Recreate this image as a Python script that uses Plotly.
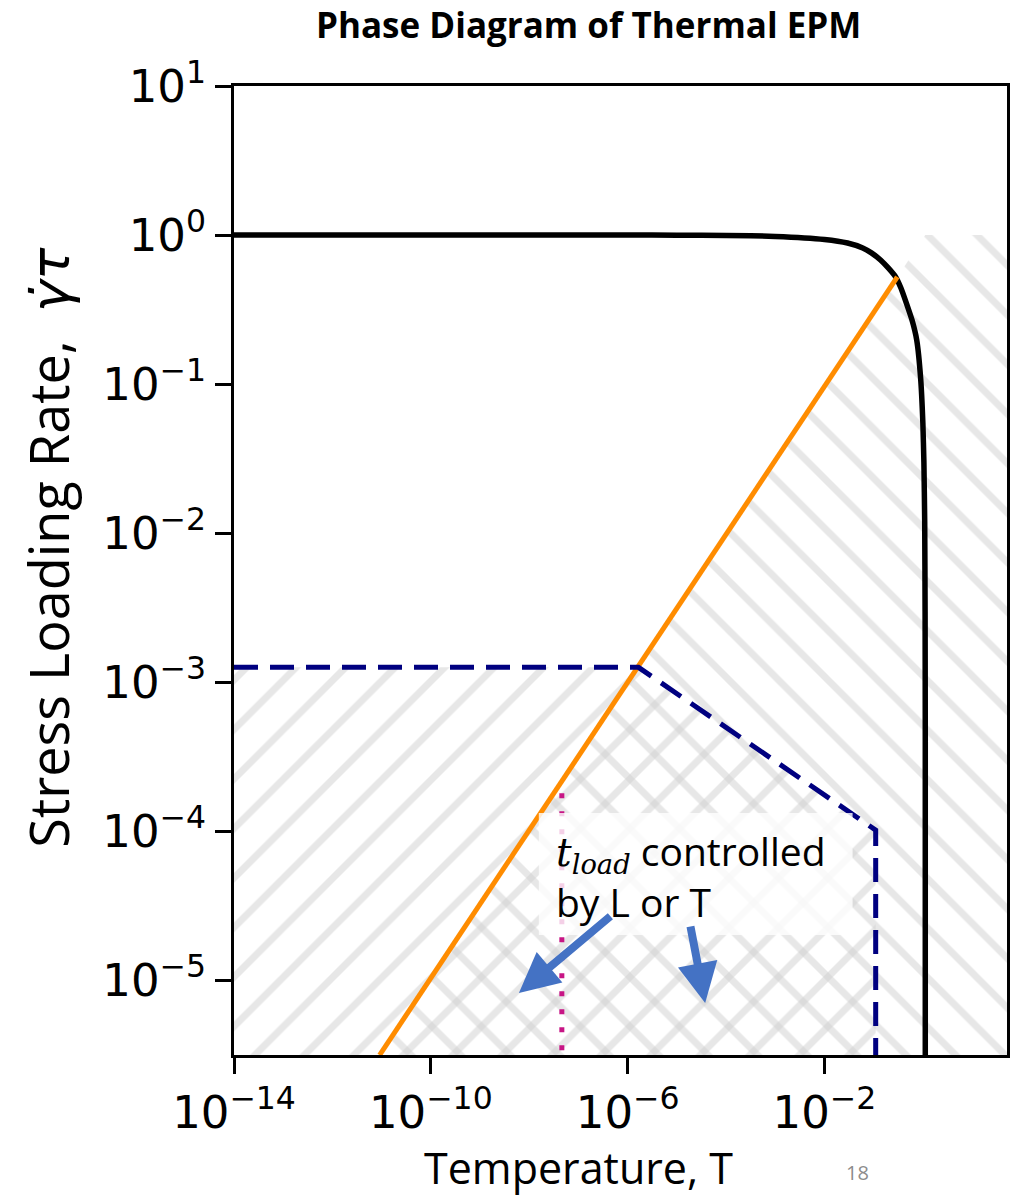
import plotly.graph_objects as go

# ---- data ----
T_black = [1e-14, 1e-9, 1e-6, 1e-5, 1e-4, 1e-3, 1e-2, 0.0295, 0.06, 0.09, 0.138, 0.2, 0.28, 0.36, 0.46, 0.6, 0.75, 0.9, 1.0, 1.05, 1.09, 1.11, 1.12, 1.12]
y_black = [1.0, 1.0, 1.0, 0.999, 0.995, 0.98, 0.935, 0.885, 0.82, 0.76, 0.681, 0.6, 0.524, 0.44, 0.351, 0.27, 0.198, 0.11, 0.055, 0.03, 0.012, 0.003, 0.0004, 3.16e-6]

T_orange = [9.1e-12, 0.303]
y_orange = [3.16e-6, 0.524]

T_navy = [1e-14, 1.66e-6, 0.11, 0.11]
y_navy = [1.26e-3, 1.26e-3, 1.02e-4, 3.16e-6]

T_pink = [4.6e-8, 4.6e-8]
y_pink = [1.8e-4, 3.16e-6]

# hatched regions
T_hatchA = [9.1e-12, 1.12, 60, 60, 9.1e-12]
y_hatchA = [3.16e-6, 1.0, 1.0, 3.16e-6, 3.16e-6]
T_hatchB = [1e-14, 1.66e-6, 0.11, 0.11, 1e-14]
y_hatchB = [1.26e-3, 1.26e-3, 1.02e-4, 3.16e-6, 3.16e-6]

x_tickvals = [1e-14, 1e-10, 1e-6, 1e-2]
x_ticktext = ["10<sup>\u221214</sup>", "10<sup>\u221210</sup>", "10<sup>\u22126</sup>", "10<sup>\u22122</sup>"]
y_tickvals = [1e-5, 1e-4, 1e-3, 1e-2, 1e-1, 1e0, 1e1]
y_ticktext = ["10<sup>\u22125</sup>", "10<sup>\u22124</sup>", "10<sup>\u22123</sup>", "10<sup>\u22122</sup>",
              "10<sup>\u22121</sup>", "10<sup>0</sup>", "10<sup>1</sup>"]

HATCH = "#cfcfcf"
LBL_FONT = "Open Sans"

fig = go.Figure()
fig.add_trace(go.Scatter(x=T_hatchA, y=y_hatchA, mode="lines", fill="toself",
                         line=dict(width=0, color="rgba(0,0,0,0)"), fillcolor="rgba(0,0,0,0)",
                         fillpattern=dict(shape="\\", size=35, solidity=0.2, fgcolor=HATCH,
                                          bgcolor="rgba(0,0,0,0)", fillmode="overlay"),
                         hoverinfo="skip", showlegend=False))
fig.add_trace(go.Scatter(x=T_hatchB, y=y_hatchB, mode="lines", fill="toself",
                         line=dict(width=0, color="rgba(0,0,0,0)"), fillcolor="rgba(0,0,0,0)",
                         fillpattern=dict(shape="/", size=35, solidity=0.2, fgcolor=HATCH,
                                          bgcolor="rgba(0,0,0,0)", fillmode="overlay"),
                         hoverinfo="skip", showlegend=False))
fig.add_trace(go.Scatter(x=T_black, y=y_black, mode="lines",
                         line=dict(color="black", width=5.5, shape="spline", smoothing=0.4), showlegend=False))
fig.add_trace(go.Scatter(x=T_orange, y=y_orange, mode="lines",
                         line=dict(color="#ff8c00", width=5), showlegend=False))
fig.add_trace(go.Scatter(x=T_navy, y=y_navy, mode="lines",
                         line=dict(color="#000080", width=5, dash="24px,12px"), showlegend=False))
fig.add_trace(go.Scatter(x=T_pink, y=y_pink, mode="lines",
                         line=dict(color="#c71585", width=5, dash="5px,13px"), showlegend=False))

L, R, T, B = 234, 1, 86, 141
W, H = 1011, 1196
pw, ph = W - L - R, H - T - B

def px(x):
    return (x - L) / pw

def py(y):
    return 1 - (y - T) / ph

fig.add_shape(type="rect", xref="paper", yref="paper", x0=px(540), x1=px(855), y0=py(935), y1=py(813),
              fillcolor="rgba(255,255,255,0.8)", line=dict(width=0), layer="above")

ann = []
ann.append(dict(xref="paper", yref="paper", x=px(555), y=py(876), xanchor="left", yanchor="middle",
                text="<span style='font-family:DejaVu Serif'><i>t</i><sub><i>load</i></sub></span> controlled<br>by L or T",
                showarrow=False, align="left", font=dict(family=LBL_FONT, size=39, color="black")))
# arrows
ann.append(dict(xref="paper", yref="paper", x=px(520), y=py(993), ax=613 - 520, ay=915 - 993,
                text="", showarrow=True, arrowhead=2, arrowsize=1.0, arrowwidth=8, arrowcolor="#4472c4"))
ann.append(dict(xref="paper", yref="paper", x=px(707), y=py(1003), ax=692 - 707, ay=925 - 1003,
                text="", showarrow=True, arrowhead=2, arrowsize=1.0, arrowwidth=8, arrowcolor="#4472c4"))
# titles
ann.append(dict(xref="paper", yref="paper", x=px(590), y=py(24), xanchor="center", yanchor="middle",
                text="<b>Phase Diagram of Thermal EPM</b>", showarrow=False,
                font=dict(family=LBL_FONT, size=35, color="black")))
ann.append(dict(xref="paper", yref="paper", x=px(580), y=py(1167), xanchor="center", yanchor="middle",
                text="Temperature, T", showarrow=False, font=dict(family=LBL_FONT, size=43, color="black")))
ann.append(dict(xref="paper", yref="paper", x=px(47), y=py(548), xanchor="center", yanchor="middle",
                textangle=-90,
                text="Stress Loading Rate,  <span style='font-family:DejaVu Sans'><i>\u03b3\u0307\u03c4</i></span>",
                showarrow=False, font=dict(family=LBL_FONT, size=54, color="black")))
ann.append(dict(xref="paper", yref="paper", x=px(860), y=py(1172), xanchor="center", yanchor="middle",
                text="18", showarrow=False, font=dict(family=LBL_FONT, size=20, color="#8c8c8c")))

fig.update_layout(
    width=W, height=H, margin=dict(l=L, r=R, t=T, b=B),
    plot_bgcolor="white", paper_bgcolor="white",
    annotations=ann,
    xaxis=dict(type="log", range=[-14, 1.71], tickvals=x_tickvals, ticktext=x_ticktext,
               showgrid=False, zeroline=False, showline=True, mirror=True, linecolor="black", linewidth=3,
               ticks="outside", ticklen=16, tickwidth=2.5, tickcolor="black",
               tickfont=dict(family="DejaVu Sans", size=45, color="black")),
    yaxis=dict(type="log", range=[-5.5, 1], tickvals=y_tickvals, ticktext=y_ticktext,
               showgrid=False, zeroline=False, showline=True, mirror=True, linecolor="black", linewidth=3,
               ticks="outside", ticklen=16, tickwidth=2.5, tickcolor="black",
               tickfont=dict(family="DejaVu Sans", size=45, color="black")),
)

fig.write_html("out.html")
